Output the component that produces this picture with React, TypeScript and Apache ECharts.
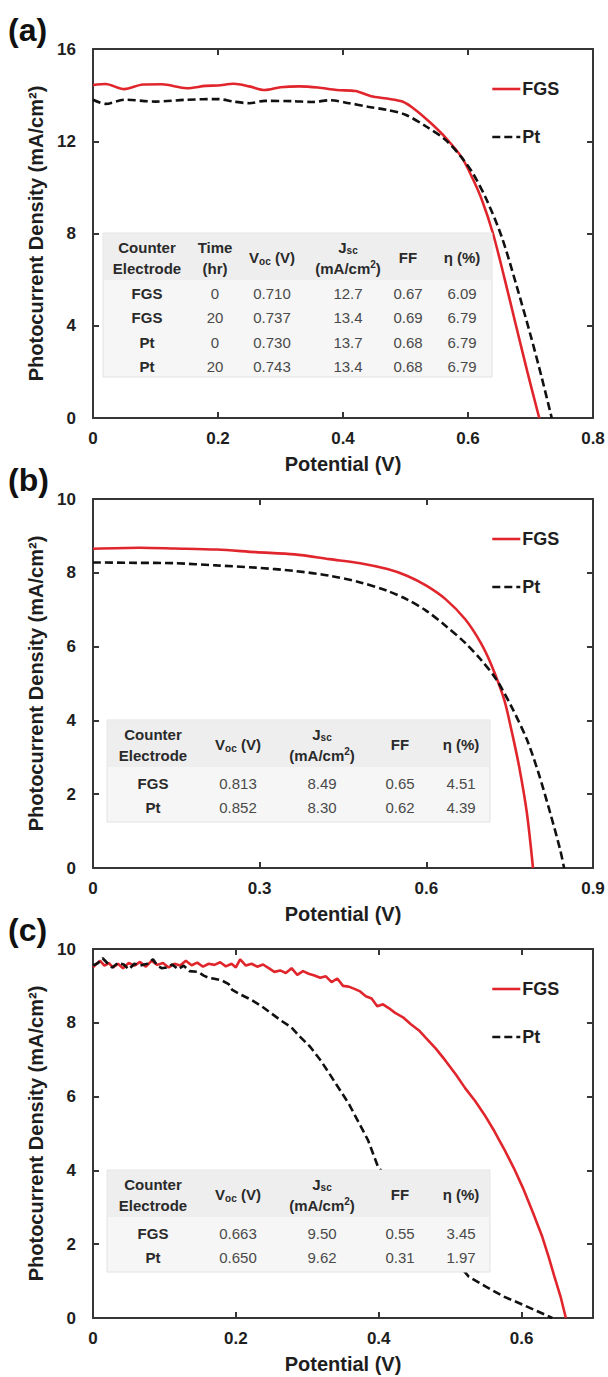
import React, { useEffect, useRef } from 'react';
import * as echarts from 'echarts';

// ---------- data ----------
const panelLabels = ['(a)', '(b)', '(c)'];
const xMaxes = [0.8, 0.9, 0.7];
const xIntervals = [0.2, 0.3, 0.2];
const yMaxes = [16, 10, 10];
const yIntervals = [4, 2, 2];
const xAxisTitle = 'Potential (V)';
const yAxisTitle = 'Photocurrent Density (mA/cm²)';
const seriesNames = ['FGS', 'Pt'];

const fgsA = [
  [0, 14.44], [0.02, 14.48], [0.05, 14.26], [0.08, 14.46], [0.11, 14.47], [0.15, 14.3], [0.18, 14.4],
  [0.2, 14.42], [0.225, 14.49], [0.25, 14.38], [0.275, 14.22], [0.3, 14.34], [0.33, 14.38], [0.36, 14.33],
  [0.39, 14.22], [0.42, 14.18], [0.445, 13.95], [0.47, 13.85], [0.495, 13.72], [0.515, 13.38], [0.54, 12.8],
  [0.565, 12.13], [0.59, 11.3], [0.608, 10.35], [0.623, 9.4], [0.64, 8.0], [0.658, 6.1], [0.676, 4.1],
  [0.695, 2.0], [0.714, 0],
];
const ptA = [
  [0, 13.8], [0.02, 13.62], [0.05, 13.8], [0.1, 13.72], [0.15, 13.8], [0.2, 13.83], [0.225, 13.72],
  [0.25, 13.65], [0.275, 13.75], [0.32, 13.74], [0.35, 13.7], [0.38, 13.78], [0.41, 13.65], [0.44, 13.5],
  [0.47, 13.36], [0.5, 13.15], [0.533, 12.64], [0.564, 12.06], [0.589, 11.32], [0.608, 10.6], [0.63, 9.45],
  [0.654, 7.85], [0.677, 5.8], [0.7, 3.6], [0.718, 1.75], [0.734, 0],
];
const fgsB = [
  [0, 8.65], [0.084, 8.68], [0.147, 8.66], [0.223, 8.63], [0.293, 8.56], [0.363, 8.5], [0.426, 8.37],
  [0.481, 8.26], [0.53, 8.1], [0.565, 7.92], [0.6, 7.65], [0.635, 7.28], [0.67, 6.74], [0.698, 6.1],
  [0.718, 5.47], [0.74, 4.57], [0.753, 3.75], [0.767, 2.75], [0.781, 1.49], [0.792, 0],
];
const ptB = [
  [0, 8.28], [0.077, 8.27], [0.147, 8.26], [0.223, 8.2], [0.293, 8.14], [0.363, 8.05], [0.426, 7.92],
  [0.481, 7.74], [0.53, 7.51], [0.565, 7.28], [0.6, 6.97], [0.635, 6.56], [0.67, 6.1], [0.698, 5.65],
  [0.726, 5.11], [0.753, 4.38], [0.781, 3.48], [0.802, 2.57], [0.823, 1.49], [0.841, 0.49], [0.848, 0],
];
const fgsC = [
  [0, 9.5], [0.005, 9.6], [0.01, 9.68], [0.016, 9.55], [0.022, 9.62], [0.028, 9.5], [0.035, 9.6],
  [0.042, 9.48], [0.05, 9.62], [0.058, 9.55], [0.066, 9.65], [0.074, 9.52], [0.082, 9.68], [0.09, 9.57],
  [0.098, 9.62], [0.106, 9.5], [0.114, 9.6], [0.122, 9.55], [0.13, 9.68], [0.138, 9.56], [0.146, 9.63],
  [0.154, 9.52], [0.162, 9.6], [0.17, 9.57], [0.178, 9.64], [0.186, 9.53], [0.194, 9.6], [0.2, 9.5],
  [0.206, 9.72], [0.214, 9.55], [0.222, 9.6], [0.23, 9.52], [0.238, 9.58], [0.246, 9.48], [0.254, 9.38],
  [0.262, 9.42], [0.27, 9.35], [0.278, 9.48], [0.286, 9.3], [0.294, 9.4], [0.302, 9.33], [0.31, 9.28],
  [0.318, 9.22], [0.326, 9.26], [0.334, 9.1], [0.342, 9.2], [0.35, 9.0], [0.358, 8.98], [0.366, 8.92],
  [0.374, 8.85], [0.382, 8.72], [0.39, 8.66], [0.398, 8.45], [0.406, 8.5], [0.414, 8.4], [0.423, 8.27],
  [0.434, 8.15], [0.445, 7.96], [0.456, 7.8], [0.466, 7.59], [0.48, 7.3], [0.494, 6.96], [0.508, 6.6],
  [0.521, 6.23], [0.535, 5.88], [0.548, 5.51], [0.562, 5.06], [0.575, 4.6], [0.589, 4.07], [0.602, 3.52],
  [0.616, 2.85], [0.629, 2.2], [0.638, 1.65], [0.646, 1.12], [0.655, 0.55], [0.662, 0],
];
const ptC = [
  [0, 9.55], [0.007, 9.62], [0.0135, 9.75], [0.02, 9.62], [0.027, 9.5], [0.035, 9.62], [0.043, 9.58],
  [0.05, 9.45], [0.058, 9.6], [0.066, 9.55], [0.076, 9.6], [0.084, 9.72], [0.09, 9.55], [0.096, 9.48],
  [0.103, 9.5], [0.111, 9.58], [0.119, 9.45], [0.127, 9.55], [0.135, 9.4], [0.147, 9.38], [0.155, 9.28],
  [0.162, 9.22], [0.168, 9.2], [0.18, 9.15], [0.19, 9.05], [0.195, 8.89], [0.205, 8.78], [0.222, 8.62],
  [0.236, 8.45], [0.25, 8.25], [0.264, 8.05], [0.277, 7.89], [0.29, 7.62], [0.304, 7.35], [0.318, 7.0],
  [0.331, 6.62], [0.345, 6.2], [0.358, 5.81], [0.372, 5.3], [0.385, 4.82], [0.399, 4.1], [0.526, 1.12],
  [0.55, 0.85], [0.575, 0.58], [0.597, 0.4], [0.618, 0.22], [0.643, 0],
];
const fgsData = [fgsA, fgsB, fgsC];
const ptData = [ptA, ptB, ptC];

const tableAHeader = ['Counter\nElectrode', 'Time\n(hr)', 'V{sub|oc} (V)', 'J{sub|sc}\n(mA/cm{sup|2})', 'FF', 'η (%)'];
const tableARows = [
  ['FGS', '0', '0.710', '12.7', '0.67', '6.09'],
  ['FGS', '20', '0.737', '13.4', '0.69', '6.79'],
  ['Pt', '0', '0.730', '13.7', '0.68', '6.79'],
  ['Pt', '20', '0.743', '13.4', '0.68', '6.79'],
];
const tableBCHeader = ['Counter\nElectrode', 'V{sub|oc} (V)', 'J{sub|sc}\n(mA/cm{sup|2})', 'FF', 'η (%)'];
const tableBRows = [
  ['FGS', '0.813', '8.49', '0.65', '4.51'],
  ['Pt', '0.852', '8.30', '0.62', '4.39'],
];
const tableCRows = [
  ['FGS', '0.663', '9.50', '0.55', '3.45'],
  ['Pt', '0.650', '9.62', '0.31', '1.97'],
];

// ---------- layout / style ----------
const FONT = "'Liberation Sans', Arial, Helvetica, sans-serif";
const RED = '#e0262c';
const BLACK = '#111111';
const AXIS = '#363636';
const GRID_LEFT = 93;
const GRID_W = 500;
const GRID_H = 369;
const GRID_TOPS = [49, 499, 949];

const tableLayouts = [
  { x: 103, yOff: 184, w: 389, h: 144, cols: [147, 215, 272, 348, 408, 462], header: tableAHeader, rows: tableARows, rowStart: 60, rowStep: 24.5 },
  { x: 107, yOff: 221, w: 383, h: 102, cols: [153, 238, 322, 400, 461], header: tableBCHeader, rows: tableBRows, rowStart: 63, rowStep: 24.5 },
  { x: 107, yOff: 221, w: 383, h: 102, cols: [153, 238, 322, 400, 461], header: tableBCHeader, rows: tableCRows, rowStart: 63, rowStep: 24.5 },
];

const richStyles = {
  sub: { fontSize: 10, fontWeight: 'bold', fontFamily: FONT, fill: '#2a2a2a', padding: [7, 0, 0, 0] },
  sup: { fontSize: 10, fontWeight: 'bold', fontFamily: FONT, fill: '#2a2a2a', padding: [0, 0, 7, 0] },
};

function buildOption() {
  const xAxes: any[] = [];
  const yAxes: any[] = [];
  const grids: any[] = [];
  const series: any[] = [];
  const legends: any[] = [];
  const graphics: any[] = [];

  GRID_TOPS.forEach((top, i) => {
    grids.push({ left: GRID_LEFT, top, width: GRID_W, height: GRID_H, containLabel: false });
    const line = { show: true, onZero: false, lineStyle: { color: AXIS, width: 2 } };
    const tick = { show: true, inside: true, length: 6, lineStyle: { color: AXIS, width: 2 } };
    const lbl = { fontSize: 17, fontWeight: 'bold', color: '#1e1e1e', fontFamily: FONT };
    xAxes.push({
      gridIndex: i, type: 'value', min: 0, max: xMaxes[i], interval: xIntervals[i], position: 'bottom',
      name: xAxisTitle, nameLocation: 'middle', nameGap: 36,
      nameTextStyle: { fontSize: 20, fontWeight: 'bold', color: '#1e1e1e', fontFamily: FONT },
      axisLine: line, axisTick: tick, splitLine: { show: false },
      axisLabel: { ...lbl, margin: 12, showMaxLabel: i === 2 ? false : true },
    });
    xAxes.push({
      gridIndex: i, type: 'value', min: 0, max: xMaxes[i], interval: xIntervals[i], position: 'top',
      axisLine: line, axisTick: tick, splitLine: { show: false }, axisLabel: { show: false },
    });
    yAxes.push({
      gridIndex: i, type: 'value', min: 0, max: yMaxes[i], interval: yIntervals[i], position: 'left',
      name: yAxisTitle, nameLocation: 'middle', nameGap: 38,
      nameTextStyle: { fontSize: 20, fontWeight: 'bold', color: '#1e1e1e', fontFamily: FONT },
      axisLine: line, axisTick: tick, splitLine: { show: false },
      axisLabel: { ...lbl, margin: 17 },
    });
    yAxes.push({
      gridIndex: i, type: 'value', min: 0, max: yMaxes[i], interval: yIntervals[i], position: 'right',
      axisLine: line, axisTick: tick, splitLine: { show: false }, axisLabel: { show: false },
    });
    series.push({
      type: 'line', name: seriesNames[0], xAxisIndex: 2 * i, yAxisIndex: 2 * i, data: fgsData[i],
      symbol: 'none', showSymbol: false, smooth: i === 2 ? false : 0.3, z: 3,
      lineStyle: { color: RED, width: 2.6 }, itemStyle: { color: RED },
    });
    series.push({
      type: 'line', name: seriesNames[1], xAxisIndex: 2 * i, yAxisIndex: 2 * i, data: ptData[i],
      symbol: 'none', showSymbol: false, smooth: i === 2 ? false : 0.3, z: 4,
      lineStyle: { color: BLACK, width: 2.6, type: [8, 4] }, itemStyle: { color: BLACK },
    });
    legends.push({
      left: 486, top: top + 26, orient: 'vertical', itemWidth: 28, itemHeight: 14, itemGap: 30,
      selectedMode: false, data: seriesNames,
      itemStyle: { color: 'rgba(0,0,0,0)', borderWidth: 0, opacity: 0 },
      lineStyle: { width: 2.6 },
      textStyle: { fontSize: 18, fontWeight: 'bold', color: '#1e1e1e', fontFamily: FONT, padding: [0, 0, 0, -3] },
    });

    // panel label
    graphics.push({
      type: 'text', x: 8, y: top - 19, z: 100,
      style: { text: panelLabels[i], fontSize: 32, fontWeight: 'bold', fill: '#111', fontFamily: FONT, verticalAlign: 'middle', align: 'left' },
    });

    // inset table
    const t = tableLayouts[i];
    const ty = top + t.yOff;
    graphics.push({ type: 'rect', z: 100, shape: { x: t.x, y: ty, width: t.w, height: t.h }, style: { fill: '#f6f6f6', stroke: '#e2e2e2', lineWidth: 1 } });
    graphics.push({ type: 'rect', z: 101, shape: { x: t.x + 1, y: ty + 1, width: t.w - 2, height: 46 }, style: { fill: '#eeeeef' } });
    t.header.forEach((h, c) => {
      graphics.push({
        type: 'text', x: t.cols[c], y: ty + 24.5, z: 102,
        style: {
          text: h, fontSize: 15, fontWeight: 'bold', fill: '#2a2a2a', fontFamily: FONT,
          align: 'center', verticalAlign: 'middle', lineHeight: 21, rich: richStyles,
        },
      });
    });
    t.rows.forEach((row, r) => {
      row.forEach((cell, c) => {
        graphics.push({
          type: 'text', x: t.cols[c], y: ty + t.rowStart + r * t.rowStep, z: 102,
          style: {
            text: cell, fontSize: 15, fontWeight: c === 0 ? 'bold' : 'normal',
            fill: c === 0 ? '#2a2a2a' : '#4a4a4a', fontFamily: FONT, align: 'center', verticalAlign: 'middle',
          },
        });
      });
    });
  });

  return {
    animation: false,
    backgroundColor: '#ffffff',
    grid: grids,
    xAxis: xAxes,
    yAxis: yAxes,
    legend: legends,
    series,
    graphic: { elements: graphics },
  };
}

export default function App() {
  const ref = useRef<HTMLDivElement>(null);
  useEffect(() => {
    if (!ref.current) return;
    const chart = echarts.init(ref.current, null, { renderer: 'svg' });
    chart.setOption(buildOption() as any);
    return () => chart.dispose();
  }, []);
  return <div ref={ref} style={{ position: 'absolute', left: 0, top: 0, width: 608, height: 1377, background: '#fff' }} />;
}
